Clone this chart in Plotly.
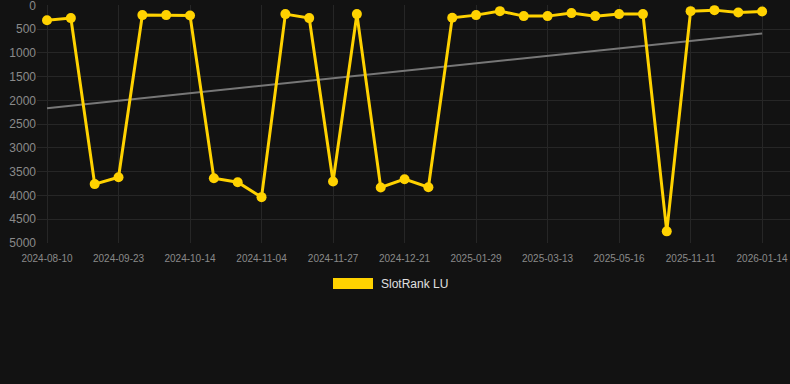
import numpy as np
import plotly.graph_objects as go

dates = [
    "2024-08-10", "2024-08-24", "2024-09-08", "2024-09-23", "2024-09-30", "2024-10-07",
    "2024-10-14", "2024-10-21", "2024-10-28", "2024-11-04", "2024-11-12", "2024-11-19",
    "2024-11-27", "2024-12-05", "2024-12-13", "2024-12-21", "2025-01-03", "2025-01-16",
    "2025-01-29", "2025-02-12", "2025-02-27", "2025-03-13", "2025-04-03", "2025-04-24",
    "2025-05-16", "2025-07-31", "2025-09-25", "2025-11-11", "2025-11-30", "2025-12-21",
    "2026-01-14",
]
ranks = [
    310, 266, 3760, 3615, 203, 203,
    210, 3637, 3720, 4035, 182, 266,
    3706, 182, 3832, 3657, 3825, 259,
    203, 119, 224, 224, 161, 224,
    182, 182, 4755, 119, 98, 147,
    126,
]
tick_labels = dates[::3]
y_ticks = [0, 500, 1000, 1500, 2000, 2500, 3000, 3500, 4000, 4500, 5000]
series_name = "SlotRank LU"

idx = np.arange(len(ranks))
slope, intercept = np.polyfit(idx, ranks, 1)
trend = [intercept + slope * i for i in idx]

GOLD = "#FFD200"
BG = "#121212"
GRID = "#262626"
TICK = "#8a8a8a"

fig = go.Figure()
fig.add_trace(go.Scatter(
    x=dates, y=trend, mode="lines",
    line=dict(color="#777777", width=2),
    showlegend=False, hoverinfo="skip",
))
fig.add_trace(go.Scatter(
    x=dates, y=ranks, mode="lines+markers", name=series_name,
    line=dict(color=GOLD, width=3),
    marker=dict(color=GOLD, size=10),
    showlegend=False,
))

fig.update_layout(
    width=790, height=384,
    paper_bgcolor=BG, plot_bgcolor=BG,
    margin=dict(l=37, r=0, t=5, b=141),
    font=dict(family="Liberation Sans, Arial, sans-serif", color=TICK),
    xaxis=dict(
        type="category", categoryorder="array", categoryarray=dates,
        tickmode="array", tickvals=tick_labels, ticktext=tick_labels,
        range=[-0.42, len(dates) - 1 + 1.17],
        showgrid=True, gridcolor=GRID, gridwidth=1,
        zeroline=False, showline=False, ticks="",
        ticklabelstandoff=8,
        tickfont=dict(size=10, color=TICK),
    ),
    yaxis=dict(
        range=[5000, -10], tickvals=y_ticks,
        showgrid=True, gridcolor=GRID, gridwidth=1,
        zeroline=False, showline=False, ticks="",
        ticklabeloverflow="allow",
        tickfont=dict(size=12, color=TICK),
    ),
    showlegend=False,
    shapes=[dict(
        type="rect", xref="paper", yref="paper",
        x0=(333 - 37) / 753, x1=(373 - 37) / 753,
        y0=(384 - 141 - 289) / 238, y1=(384 - 141 - 278) / 238,
        fillcolor=GOLD, line=dict(width=0),
    )],
    annotations=[dict(
        text=series_name, xref="paper", yref="paper",
        x=(379 - 37) / 753, y=(384 - 141 - 284) / 238,
        xanchor="left", yanchor="middle", showarrow=False,
        font=dict(size=12, color="#e0e0e0"),
    )],
)

fig.write_html("out.html", config={"displayModeBar": False})
with open("out.html", "r", encoding="utf-8") as f:
    html = f.read()
html = html.replace("<body>", '<body style="margin:0;padding:0;background:#121212;overflow:hidden">', 1)
with open("out.html", "w", encoding="utf-8") as f:
    f.write(html)
